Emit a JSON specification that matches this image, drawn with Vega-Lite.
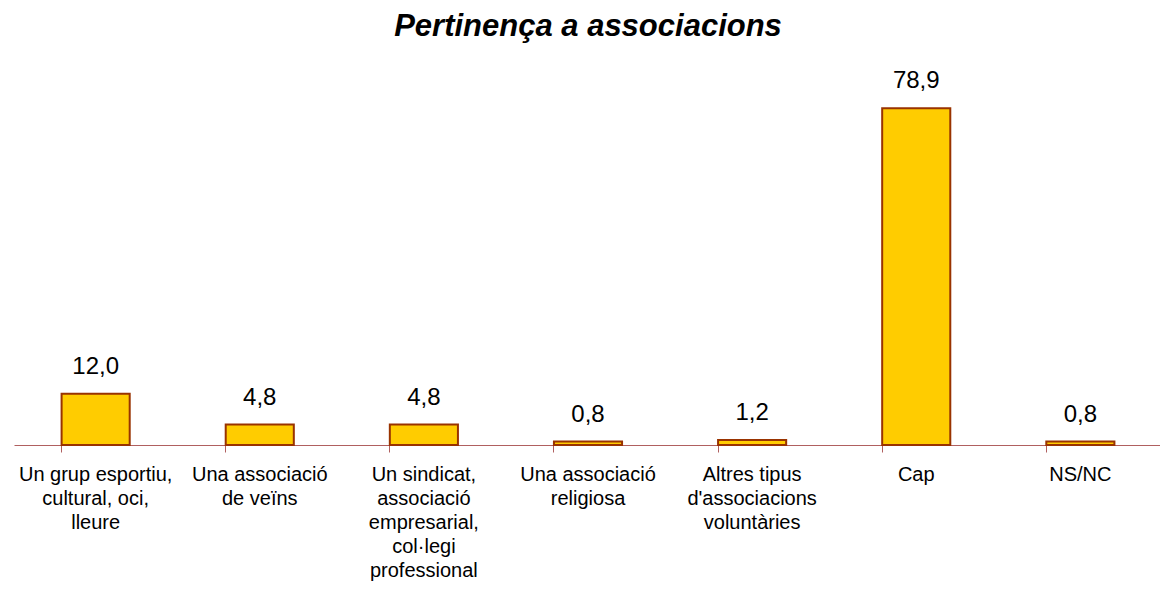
{
  "$schema": "https://vega.github.io/schema/vega-lite/v6.json",
  "width": 1148,
  "height": 384,
  "autosize": {"type": "none"},
  "padding": {"left": 14, "top": 61, "right": 0, "bottom": 145},
  "background": "white",
  "title": {
    "text": "Pertinença a associacions",
    "font": "Liberation Sans",
    "fontSize": 31,
    "fontWeight": "bold",
    "fontStyle": "italic",
    "color": "black",
    "baseline": "alphabetic",
    "offset": -6,
    "anchor": "middle"
  },
  "config": {
    "view": {"stroke": null},
    "locale": {"number": {"decimal": ",", "thousands": ".", "grouping": [3], "currency": ["", " €"]}}
  },
  "data": {
    "values": [
      {"cat": "Un grup esportiu,|cultural, oci,|lleure", "v": 12.0},
      {"cat": "Una associació|de veïns", "v": 4.8},
      {"cat": "Un sindicat,|associació|empresarial,|col·legi|professional", "v": 4.8},
      {"cat": "Una associació|religiosa", "v": 0.8},
      {"cat": "Altres tipus|d'associacions|voluntàries", "v": 1.2},
      {"cat": "Cap", "v": 78.9},
      {"cat": "NS/NC", "v": 0.8}
    ]
  },
  "encoding": {
    "x": {
      "field": "cat",
      "type": "nominal",
      "sort": null,
      "scale": {"paddingInner": 0.585, "paddingOuter": 0.29},
      "axis": {
        "title": null,
        "labelAngle": 0,
        "labelExpr": "split(datum.label, '|')",
        "labelFont": "Liberation Sans",
        "labelFontSize": 20,
        "labelColor": "black",
        "labelLineHeight": 24,
        "labelBaseline": "top",
        "labelPadding": 12,
        "labelLimit": 0,
        "labelOverlap": false,
        "bandPosition": 0,
        "tickSize": 7,
        "tickColor": "#b06060",
        "domainColor": "#b06060",
        "domainWidth": 1,
        "tickWidth": 1
      }
    },
    "y": {
      "field": "v",
      "type": "quantitative",
      "scale": {"domain": [0, 90], "nice": false},
      "axis": null
    }
  },
  "layer": [
    {
      "mark": {"type": "bar", "fill": "#FFCC00", "stroke": "#993300", "strokeWidth": 2}
    },
    {
      "mark": {"type": "text", "dy": -20, "baseline": "alphabetic", "font": "Liberation Sans", "fontSize": 24, "color": "black"},
      "encoding": {"text": {"field": "v", "type": "quantitative", "format": ".1f"}}
    }
  ]
}
